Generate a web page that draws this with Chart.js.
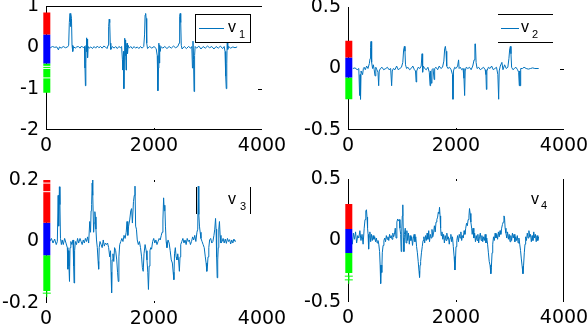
<!DOCTYPE html>
<html><head><meta charset="utf-8">
<script src="https://cdn.jsdelivr.net/npm/chart.js@4"></script>
<style>
html,body{margin:0;padding:0;background:#fff;}
#wrap{position:relative;width:588px;height:324px;overflow:hidden;background:#fff;}
canvas{position:absolute;left:0;top:0;}
.t{position:absolute;font-family:"Liberation Sans",Arial,sans-serif;color:#000;line-height:1;white-space:nowrap;}
.v{font-size:16px;}
.s{font-size:11px;}
.h{position:absolute;height:0;border-top:1px solid #000;}
.hb{position:absolute;height:0;border-top:1px solid #0072BD;}
.vl{position:absolute;width:0;border-left:1px solid #000;}
.box{position:absolute;border:1px solid #000;background:#fff;box-sizing:border-box;}
</style></head>
<body><div id="wrap">
<canvas id="c1" width="588" height="324"></canvas>
<canvas id="c2" width="588" height="324"></canvas>
<canvas id="c3" width="588" height="324"></canvas>
<canvas id="c4" width="588" height="324"></canvas>
<div class="box" style="left:195px;top:14px;width:56px;height:29px;"></div>
<div class="hb" style="left:199px;top:28px;width:25px;"></div>
<span class="t v" style="left:228px;top:19px;">v</span><span class="t s" style="left:239px;top:29px;">1</span>
<div class="h" style="left:498px;top:14px;width:55px;"></div>
<div class="h" style="left:498px;top:42px;width:55px;"></div>
<div class="hb" style="left:501px;top:28px;width:18px;"></div>
<span class="t v" style="left:521px;top:19px;">v</span><span class="t s" style="left:532px;top:29px;">2</span>
<div class="vl" style="left:196px;top:187px;height:27px;"></div>
<div class="vl" style="left:250px;top:187px;height:27px;"></div>
<span class="t v" style="left:228px;top:191px;">v</span><span class="t s" style="left:240px;top:201px;">3</span>
<span class="t v" style="left:531px;top:191px;">v</span><span class="t s" style="left:541px;top:200px;">4</span>
</div>
<script>
// ---- data ----
const xTicks = [0, 2000, 4000];
const yTicks1 = [-2, -1, 0, 1];
const yTicks2 = [-0.5, 0, 0.5];
const yTicks3 = [-0.2, 0, 0.2];
const yTicks4 = [-0.5, 0, 0.5];
const seriesNames = ['v1', 'v2', 'v3', 'v4'];

// colour band boundaries at sample 0 (red, blue, green)
const bands1 = [0.84, 0.31, -0.39, -1.10];
const bands2 = [0.226, 0.089, -0.074, -0.25];
const bands3 = [0.2, 0.061, -0.045, -0.161];
const bands4 = [0.297, 0.093, -0.102, -0.264];
const gaps1 = [-0.46, -0.51, -0.74];
const gaps3 = [0.19, 0.162];
const plus3 = [-0.168];
const plus4 = [-0.29, -0.32];

const v1 = [[0,0],[40,0.01],[80,-0.01],[120,0.02],[160,0],[200,0.01],[230,-0.06],[250,0.01],[280,-0.02],[320,0.02],[360,-0.01],[400,0.01],[420,0.05],[432,0.6],[445,0.82],[455,0.5],[462,0.8],[472,0.7],[482,0.05],[495,-0.1],[510,0.02],[540,-0.02],[570,0.01],[600,0.02],[630,-0.02],[660,0.03],[690,-0.01],[712,0.02],[722,-0.5],[730,-0.93],[738,-0.4],[744,0.05],[750,0.23],[756,-0.1],[762,0.2],[770,-0.25],[780,0.02],[800,-0.02],[830,0.01],[860,-0.03],[890,0.02],[920,-0.02],[950,0.03],[980,-0.01],[1010,0.02],[1040,-0.02],[1070,0.03],[1100,0.01],[1130,-0.03],[1150,0.05],[1160,0.5],[1170,0.68],[1180,0.6],[1190,0.1],[1200,-0.05],[1230,0.02],[1260,-0.02],[1290,0.02],[1320,-0.03],[1350,0.02],[1380,-0.01],[1400,0.02],[1415,-0.3],[1425,-0.55],[1435,-0.1],[1442,-1.0],[1450,-0.3],[1458,0.22],[1466,-0.2],[1474,0.18],[1482,-0.55],[1490,0.0],[1500,0.1],[1510,-0.15],[1520,0.05],[1540,-0.02],[1570,0.02],[1600,-0.03],[1630,0.02],[1660,-0.02],[1690,0.01],[1720,-0.03],[1750,0.02],[1780,-0.02],[1810,0.02],[1825,0.3],[1835,0.78],[1845,0.82],[1855,0.7],[1865,0.1],[1880,-0.03],[1920,0.02],[1960,-0.02],[2000,0.02],[2040,-0.03],[2060,-0.2],[2072,-1.05],[2082,-0.5],[2090,0.1],[2098,-0.38],[2106,0.05],[2115,-0.1],[2130,0.02],[2160,-0.02],[2200,0.02],[2240,-0.03],[2280,0.02],[2320,-0.02],[2360,0.03],[2400,-0.01],[2440,0.02],[2465,0.1],[2475,0.75],[2485,0.82],[2495,0.6],[2505,0.05],[2520,-0.04],[2560,0.02],[2600,-0.03],[2640,0.02],[2680,-0.02],[2700,0.02],[2712,-0.5],[2722,0.15],[2732,-0.3],[2742,-1.07],[2752,-0.2],[2762,0.02],[2790,-0.02],[2830,0.03],[2870,-0.04],[2910,0.02],[2950,-0.02],[2990,0.03],[3030,-0.01],[3070,0.02],[3110,-0.04],[3150,0.02],[3190,-0.02],[3230,0.03],[3270,-0.03],[3300,0.02],[3315,-0.1],[3328,-0.7],[3338,-1.0],[3348,-0.4],[3356,0.22],[3366,-0.05],[3380,0.02],[3420,-0.02],[3460,0.01],[3500,-0.01],[3540,0.01]];

const v2 = [[90,0],[130,0.005],[170,-0.01],[200,0],[215,-0.22],[225,-0.05],[232,-0.25],[242,-0.02],[255,-0.02],[270,-0.05],[285,0.0],[300,0.01],[320,-0.01],[345,0.02],[370,0.0],[395,0.04],[408,0.08],[418,0.17],[426,0.22],[434,0.15],[442,0.05],[455,0.0],[470,0.03],[485,-0.01],[500,-0.06],[515,0.01],[535,-0.01],[555,-0.03],[568,-0.14],[578,-0.02],[600,0.0],[630,0.01],[660,-0.01],[700,0.0],[730,0.01],[760,-0.01],[790,0.0],[808,-0.14],[820,-0.02],[840,0.0],[870,-0.01],[900,0.02],[930,-0.01],[960,0.0],[990,0.01],[1015,0.05],[1030,0.15],[1044,0.18],[1055,0.14],[1065,0.03],[1085,0.0],[1110,0.01],[1140,-0.01],[1170,0.0],[1200,0.02],[1230,-0.01],[1250,-0.02],[1262,-0.11],[1272,-0.02],[1300,0.01],[1330,0.0],[1355,0.02],[1372,0.12],[1382,-0.03],[1395,0.02],[1420,0.0],[1450,-0.01],[1480,0.01],[1505,-0.03],[1520,-0.14],[1530,-0.02],[1545,-0.12],[1555,-0.01],[1575,0.0],[1595,-0.09],[1605,0.0],[1630,0.01],[1660,-0.01],[1690,0.02],[1720,0.0],[1750,0.01],[1775,0.06],[1790,0.16],[1803,0.18],[1815,0.14],[1828,0.02],[1850,0.0],[1880,0.01],[1910,-0.01],[1935,-0.05],[1944,-0.25],[1953,-0.02],[1975,0.01],[2000,0.0],[2030,0.02],[2048,0.07],[2058,0.0],[2080,0.01],[2105,-0.01],[2130,0.0],[2148,-0.08],[2160,-0.22],[2170,-0.02],[2190,0.01],[2220,0.0],[2250,0.01],[2280,-0.01],[2310,0.02],[2335,0.07],[2350,0.2],[2360,0.2],[2372,0.05],[2390,0.0],[2420,0.01],[2450,-0.01],[2480,0.0],[2510,0.01],[2540,-0.01],[2555,-0.05],[2563,-0.17],[2572,-0.02],[2600,0.01],[2630,0.0],[2660,0.02],[2690,-0.01],[2720,0.0],[2750,0.01],[2775,-0.05],[2790,-0.25],[2800,-0.02],[2820,0.02],[2850,0.05],[2870,-0.01],[2900,0.03],[2930,0.0],[2960,0.01],[2980,0.08],[2995,0.16],[3007,0.18],[3018,0.12],[3030,0.01],[3055,-0.01],[3080,0.0],[3110,0.01],[3140,-0.01],[3160,-0.03],[3172,-0.14],[3180,-0.02],[3188,-0.14],[3198,0.0],[3230,0.0],[3260,0.01],[3300,0.0],[3340,-0.005],[3380,0.0],[3420,0.005],[3460,0.0],[3500,0.0],[3531,0.0]];

const v3 = [[70,0.0],[100,0.01],[130,-0.005],[160,0.008],[190,-0.01],[210,0.0],[225,0.15],[235,0.05],[248,0.178],[258,0.12],[268,0.01],[285,-0.01],[300,0.005],[320,-0.01],[345,0.01],[370,-0.005],[395,-0.02],[405,-0.09],[415,-0.03],[425,-0.08],[435,-0.13],[445,-0.02],[460,0.0],[480,-0.01],[500,0.005],[512,-0.08],[520,-0.135],[530,-0.03],[545,0.0],[565,-0.01],[585,0.01],[605,-0.005],[630,0.01],[650,0.0],[670,-0.01],[690,0.005],[710,-0.005],[730,0.01],[750,0.0],[770,0.015],[790,-0.005],[810,0.065],[825,0.03],[835,0.1],[845,0.12],[855,0.19],[862,0.205],[870,0.15],[882,0.03],[892,0.06],[905,0.097],[915,0.08],[925,0.04],[935,0.005],[950,-0.02],[965,-0.065],[975,-0.09],[985,-0.02],[1000,0.0],[1020,-0.01],[1040,-0.02],[1060,0.005],[1080,-0.015],[1100,-0.005],[1120,-0.01],[1140,-0.005],[1160,-0.02],[1180,-0.05],[1195,-0.03],[1205,-0.1],[1215,-0.167],[1225,-0.06],[1240,-0.04],[1255,-0.065],[1270,-0.02],[1290,-0.03],[1310,-0.06],[1325,-0.1],[1338,-0.13],[1350,-0.05],[1365,-0.01],[1385,0.0],[1405,0.01],[1425,0.0],[1445,0.02],[1465,0.01],[1485,0.03],[1500,0.065],[1515,0.02],[1530,0.05],[1550,0.07],[1570,0.1],[1585,0.107],[1600,0.06],[1620,0.13],[1635,0.15],[1648,0.18],[1660,0.05],[1675,0.04],[1690,0.005],[1710,-0.01],[1730,0.0],[1750,-0.02],[1770,-0.05],[1785,-0.085],[1800,-0.097],[1815,-0.04],[1835,-0.01],[1855,-0.03],[1870,-0.06],[1885,-0.1],[1897,-0.156],[1910,-0.08],[1925,-0.03],[1940,-0.02],[1955,-0.025],[1975,0.0],[1995,0.01],[2015,-0.005],[2035,0.005],[2055,-0.01],[2075,0.0],[2095,0.01],[2115,0.005],[2135,0.02],[2150,0.03],[2165,0.07],[2178,0.142],[2190,0.1],[2200,0.118],[2212,0.05],[2225,0.0],[2240,-0.02],[2260,0.005],[2280,-0.005],[2300,-0.03],[2320,-0.06],[2340,-0.07],[2355,-0.1],[2368,-0.124],[2380,-0.04],[2395,-0.02],[2410,-0.05],[2425,-0.06],[2440,-0.04],[2455,-0.06],[2470,-0.097],[2482,-0.05],[2495,-0.01],[2515,0.0],[2535,0.01],[2555,-0.005],[2575,0.005],[2595,-0.01],[2615,0.01],[2635,0.0],[2655,0.005],[2675,-0.01],[2695,0.0],[2715,0.015],[2735,0.005],[2755,0.02],[2775,0.0],[2795,0.03],[2810,0.04],[2820,0.18],[2830,0.088],[2842,0.05],[2855,0.03],[2870,0.01],[2890,0.0],[2910,-0.01],[2930,-0.02],[2950,-0.05],[2965,-0.07],[2978,-0.097],[2990,-0.08],[3000,-0.05],[3015,-0.02],[3030,0.005],[3050,0.01],[3070,-0.005],[3090,0.0],[3110,0.02],[3125,0.04],[3140,0.075],[3150,0.04],[3160,-0.05],[3170,-0.118],[3180,-0.06],[3190,-0.02],[3200,0.04],[3212,0.065],[3225,0.02],[3240,-0.005],[3260,0.0],[3280,0.01],[3300,-0.005],[3320,0.008],[3340,-0.006],[3360,0.01],[3380,0.0],[3400,0.006],[3420,-0.008],[3440,0.005],[3460,-0.005],[3480,0.008],[3500,0.0],[3519,0.003]];

const v4 = [[40,0.0],[60,0.05],[80,-0.03],[100,0.06],[120,0.01],[140,0.07],[160,-0.02],[180,0.04],[200,0.02],[220,0.08],[240,0.0],[260,0.05],[280,-0.03],[300,0.1],[315,0.17],[330,0.24],[342,0.25],[352,0.19],[362,0.1],[372,0.05],[382,-0.07],[392,0.03],[405,0.07],[420,-0.01],[435,0.05],[450,0.0],[465,0.04],[480,0.01],[495,0.03],[510,-0.01],[525,0.02],[540,-0.02],[555,0.0],[570,-0.03],[585,-0.09],[595,-0.2],[605,-0.35],[615,-0.2],[625,-0.26],[635,-0.1],[650,-0.04],[665,0.0],[680,0.02],[695,-0.01],[710,0.04],[725,0.01],[740,0.03],[755,0.0],[770,0.05],[785,0.02],[800,0.04],[815,0.01],[830,0.06],[845,0.03],[860,0.05],[875,0.1],[890,0.02],[905,0.15],[920,0.175],[935,0.16],[950,0.17],[962,0.1],[975,0.05],[985,-0.09],[995,0.07],[1005,0.2],[1015,0.29],[1025,0.02],[1035,-0.09],[1045,0.05],[1060,0.1],[1075,-0.02],[1090,0.08],[1105,0.0],[1120,0.06],[1135,-0.03],[1150,0.04],[1165,0.0],[1180,0.03],[1195,-0.04],[1210,0.02],[1225,0.05],[1240,-0.01],[1255,0.03],[1270,-0.05],[1285,-0.1],[1300,-0.17],[1315,-0.25],[1325,-0.3],[1335,-0.2],[1345,-0.17],[1360,-0.1],[1375,-0.05],[1390,0.0],[1405,0.03],[1420,-0.02],[1435,0.04],[1450,0.0],[1465,0.06],[1480,0.01],[1495,0.08],[1510,-0.01],[1525,0.05],[1540,0.02],[1555,0.09],[1570,0.03],[1585,0.06],[1600,0.12],[1615,0.07],[1630,0.15],[1645,0.17],[1660,0.19],[1672,0.23],[1685,0.22],[1695,0.27],[1705,0.2],[1715,0.1],[1725,0.04],[1740,0.07],[1755,0.01],[1770,0.05],[1785,-0.02],[1800,0.04],[1815,0.0],[1830,0.06],[1845,0.01],[1860,0.03],[1875,-0.03],[1890,0.02],[1905,0.05],[1920,-0.01],[1935,0.03],[1950,-0.05],[1965,-0.13],[1980,-0.24],[1990,-0.16],[2000,-0.05],[2015,0.0],[2030,0.04],[2045,-0.01],[2060,0.05],[2075,0.02],[2090,0.07],[2105,0.0],[2120,0.04],[2135,0.02],[2150,0.08],[2165,0.05],[2180,0.1],[2195,0.14],[2210,0.12],[2225,0.17],[2240,0.2],[2250,0.26],[2262,0.22],[2275,0.15],[2290,0.1],[2300,0.05],[2315,0.1],[2330,0.02],[2345,0.06],[2360,-0.01],[2375,0.04],[2390,0.0],[2405,0.05],[2420,-0.02],[2435,0.03],[2450,0.06],[2465,0.0],[2480,0.04],[2495,-0.01],[2510,0.03],[2525,0.0],[2540,0.05],[2555,-0.02],[2570,0.02],[2585,-0.03],[2600,-0.1],[2615,-0.17],[2630,-0.2],[2645,-0.27],[2655,-0.22],[2668,-0.1],[2680,-0.03],[2695,0.03],[2710,0.0],[2725,0.06],[2740,0.02],[2755,0.05],[2770,0.01],[2785,0.07],[2800,0.03],[2815,0.08],[2830,0.05],[2845,0.1],[2860,0.13],[2875,0.15],[2888,0.2],[2898,0.19],[2910,0.1],[2925,0.06],[2940,0.02],[2955,0.07],[2970,0.01],[2985,0.05],[3000,-0.01],[3015,0.04],[3030,0.0],[3045,0.06],[3060,0.02],[3075,0.05],[3090,-0.01],[3105,0.03],[3120,0.0],[3135,0.04],[3150,-0.02],[3165,0.02],[3180,-0.03],[3195,-0.08],[3210,-0.15],[3225,-0.21],[3240,-0.27],[3252,-0.2],[3265,-0.1],[3278,-0.03],[3290,0.03],[3305,0.0],[3320,0.06],[3335,0.02],[3350,0.08],[3365,0.03],[3380,0.05],[3395,-0.01],[3410,0.04],[3425,0.0],[3440,0.07],[3455,0.02],[3470,0.05],[3485,-0.01],[3500,0.04],[3515,0.0],[3531,0.03]];

// ---- drawing ----
const BAND_X = 15;
const FONT = {family: 'DejaVu Sans', size: 19};
const bandColors = ['#ff0000', '#0000ff', '#00ff00'];

const framePlugin = {
  id: 'frame',
  beforeDatasetsDraw(chart, args, o) {
    const {ctx, chartArea: a} = chart;
    const xs = chart.scales.x, ys = chart.scales.y;
    const L = Math.round(a.left) + 0.5, R = Math.round(a.right) - 0.5;
    const T = Math.round(a.top) + 0.5, B = Math.round(a.bottom) - 0.5;
    ctx.save();
    ctx.strokeStyle = '#000'; ctx.lineWidth = 1;
    ctx.beginPath();
    if (o.left) { ctx.moveTo(L, a.top); ctx.lineTo(L, a.bottom); }
    if (o.right) { ctx.moveTo(R, a.top); ctx.lineTo(R, a.bottom); }
    if (o.top) { ctx.moveTo(a.left, T); ctx.lineTo(a.right, T); }
    if (o.bottom) { ctx.moveTo(a.left, B); ctx.lineTo(a.right, B); }
    (o.marks || []).forEach(m => {
      if (m[0] === 'b' || m[0] === 't') {
        const x = Math.round(xs.getPixelForValue(m[1])) + 0.5;
        const y = m[0] === 'b' ? a.bottom : a.top;
        ctx.moveTo(x, y); ctx.lineTo(x, y + (m[0] === 'b' ? -2 : 2));
      } else {
        const y = Math.round(ys.getPixelForValue(m[1])) + 0.5;
        ctx.moveTo(a.right, y); ctx.lineTo(a.right - 4, y);
      }
    });
    ctx.stroke();
    ctx.restore();
  }
};

function bandSets(bands) {
  const out = [];
  for (let i = 0; i < 3; i++) {
    out.push({data: [{x: BAND_X, y: bands[i]}, {x: BAND_X, y: bands[i + 1]}],
      borderColor: bandColors[i], borderWidth: 7, borderCapStyle: 'butt',
      pointRadius: 0, clip: false});
  }
  return out;
}
function markSet(vals, color, style, r) {
  return {data: vals.map(v => ({x: BAND_X, y: v})), showLine: false,
    pointStyle: style, pointRadius: r, borderColor: color, borderWidth: 1,
    backgroundColor: color, clip: false};
}

function build(id, name, series, yTicks, bands, extra, pad, xH, frame) {
  const datasets = [...extra, ...bandSets(bands), {
    label: name,
    data: series.map(p => ({x: p[0], y: p[1]})),
    borderColor: '#0072BD', borderWidth: 1, pointRadius: 0, tension: 0
  }];
  new Chart(document.getElementById(id), {
    type: 'line',
    data: {datasets},
    options: {
      responsive: false, animation: false, events: [],
      layout: {padding: pad},
      plugins: {legend: {display: false}, tooltip: {enabled: false}, frame},
      scales: {
        x: {type: 'linear', min: xTicks[0], max: xTicks[xTicks.length - 1],
          afterBuildTicks: s => { s.ticks = xTicks.map(v => ({value: v})); },
          afterFit: s => { s.height = xH; s.paddingLeft = 0; s.paddingRight = 0; },
          grid: {display: false, drawTicks: false}, border: {display: false},
          ticks: {font: FONT, color: '#000', padding: 5, maxRotation: 0, autoSkip: false,
            callback: v => String(v)}},
        y: {type: 'linear', min: yTicks[0], max: yTicks[yTicks.length - 1],
          afterBuildTicks: s => { s.ticks = yTicks.map(v => ({value: v})); },
          afterFit: s => { s.width = 46; s.paddingTop = 0; s.paddingBottom = 0; },
          grid: {display: false, drawTicks: false}, border: {display: false},
          ticks: {font: FONT, color: '#000', padding: 7, autoSkip: false,
            callback: v => String(v)}}
      }
    },
    plugins: [framePlugin]
  });
}

build('c1', seriesNames[0], v1, yTicks1, bands1,
  [markSet(gaps1, '#ffffff', 'line', 4)],
  {left: 0, right: 326, top: 6, bottom: 162}, 32,
  {left: true, top: true, bottom: true, marks: [['b', 2000], ['r', -1]]});
build('c2', seriesNames[1], v2, yTicks2, bands2, [],
  {left: 302, right: 24, top: 7, bottom: 162}, 32,
  {left: true, bottom: true, marks: [['b', 2000], ['r', 0]]});
build('c3', seriesNames[2], v3, yTicks3, bands3,
  [markSet(gaps3, '#ffffff', 'line', 4), markSet(plus3, '#00ff00', 'cross', 4)],
  {left: 0, right: 326, top: 180, bottom: 0}, 21,
  {left: true, marks: [['b', 2000], ['t', 2000]]});
build('c4', seriesNames[3], v4, yTicks4, bands4,
  [markSet(plus4, '#00ff00', 'cross', 4)],
  {left: 302, right: 24, top: 179, bottom: 0}, 22,
  {left: true, right: true, marks: [['b', 2000], ['t', 2000]]});
</script>
</body></html>
